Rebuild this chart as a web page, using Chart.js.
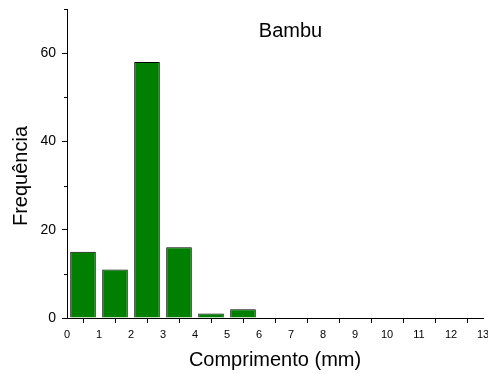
<!DOCTYPE html>
<html>
<head>
<meta charset="utf-8">
<script src="https://cdn.jsdelivr.net/npm/chart.js@4/dist/chart.umd.min.js"></script>
<style>
  html, body { margin: 0; padding: 0; background: #fff; }
  #wrap { width: 488px; height: 374px; }
</style>
</head>
<body>
<div id="wrap"><canvas id="hist"></canvas></div>
<script>
// histogram bins (mm) and counts
const binCenters = [0.5, 1.5, 2.5, 3.5, 4.5, 5.5];
const counts = [15, 11, 58, 16, 1, 2];
const chartTitle = 'Bambu';
const xTitle = 'Comprimento (mm)';
const yTitle = 'Frequência';

const FONT = "'Liberation Sans', Arial, sans-serif";

// short minor ticks, the axis titles and the label inside the plot
const extras = {
    id: 'extras',
    afterDraw(chart) {
        const ctx = chart.ctx;
        const x = chart.scales.x, y = chart.scales.y;
        ctx.save();
        ctx.strokeStyle = '#000';
        ctx.lineWidth = 1;
        ctx.beginPath();
        for (let v = 0.5; v < 13; v += 1) {
            const px = Math.round(x.getPixelForValue(v)) + 0.5;
            ctx.moveTo(px, y.bottom);
            ctx.lineTo(px, y.bottom + 3);
        }
        for (let v = 10; v <= 70; v += 20) {
            const py = Math.round(y.getPixelForValue(v)) + 0.5;
            ctx.moveTo(x.left, py);
            ctx.lineTo(x.left - 3, py);
        }
        ctx.stroke();

        ctx.fillStyle = '#000';
        ctx.font = '20px ' + FONT;
        ctx.textAlign = 'center';
        ctx.textBaseline = 'alphabetic';
        ctx.fillText(chartTitle, 290.5, 37);
        ctx.fillText(xTitle, (x.left + x.right) / 2, 366);

        ctx.translate(27, 176);
        ctx.rotate(-Math.PI / 2);
        ctx.fillText(yTitle, 0, 0);
        ctx.restore();
    }
};

new Chart(document.getElementById('hist'), {
    type: 'bar',
    data: {
        datasets: [{
            data: binCenters.map((c, i) => ({ x: c, y: counts[i] })),
            backgroundColor: '#008000',
            borderColor: '#000',
            borderWidth: 1,
            barPercentage: 0.8,
            categoryPercentage: 1.0
        }]
    },
    options: {
        responsive: true,
        maintainAspectRatio: false,
        animation: false,
        layout: { padding: { top: 9, right: 5, left: 0, bottom: 0 } },
        plugins: {
            legend: { display: false },
            tooltip: { enabled: false }
        },
        scales: {
            x: {
                type: 'linear',
                min: 0,
                max: 13,
                offset: false,
                ticks: {
                    stepSize: 1,
                    color: '#000',
                    font: { family: FONT, size: 11 },
                    padding: 5,
                    maxRotation: 0
                },
                grid: {
                    drawOnChartArea: false,
                    drawTicks: true,
                    tickLength: 5,
                    tickColor: '#000'
                },
                border: { color: '#000', width: 1 },
                afterFit(s) {
                    s.height = 56;
                    s.paddingLeft = 0;
                    s.paddingRight = 0;
                }
            },
            y: {
                min: 0,
                max: 70,
                ticks: {
                    stepSize: 20,
                    includeBounds: false,
                    color: '#000',
                    font: { family: FONT, size: 14 },
                    padding: 6
                },
                grid: {
                    drawOnChartArea: false,
                    drawTicks: true,
                    tickLength: 5,
                    tickColor: '#000'
                },
                border: { color: '#000', width: 1 },
                afterFit(s) {
                    s.width = 67;
                    s.paddingTop = 0;
                    s.paddingBottom = 0;
                }
            }
        }
    },
    plugins: [extras]
});
</script>
</body>
</html>
